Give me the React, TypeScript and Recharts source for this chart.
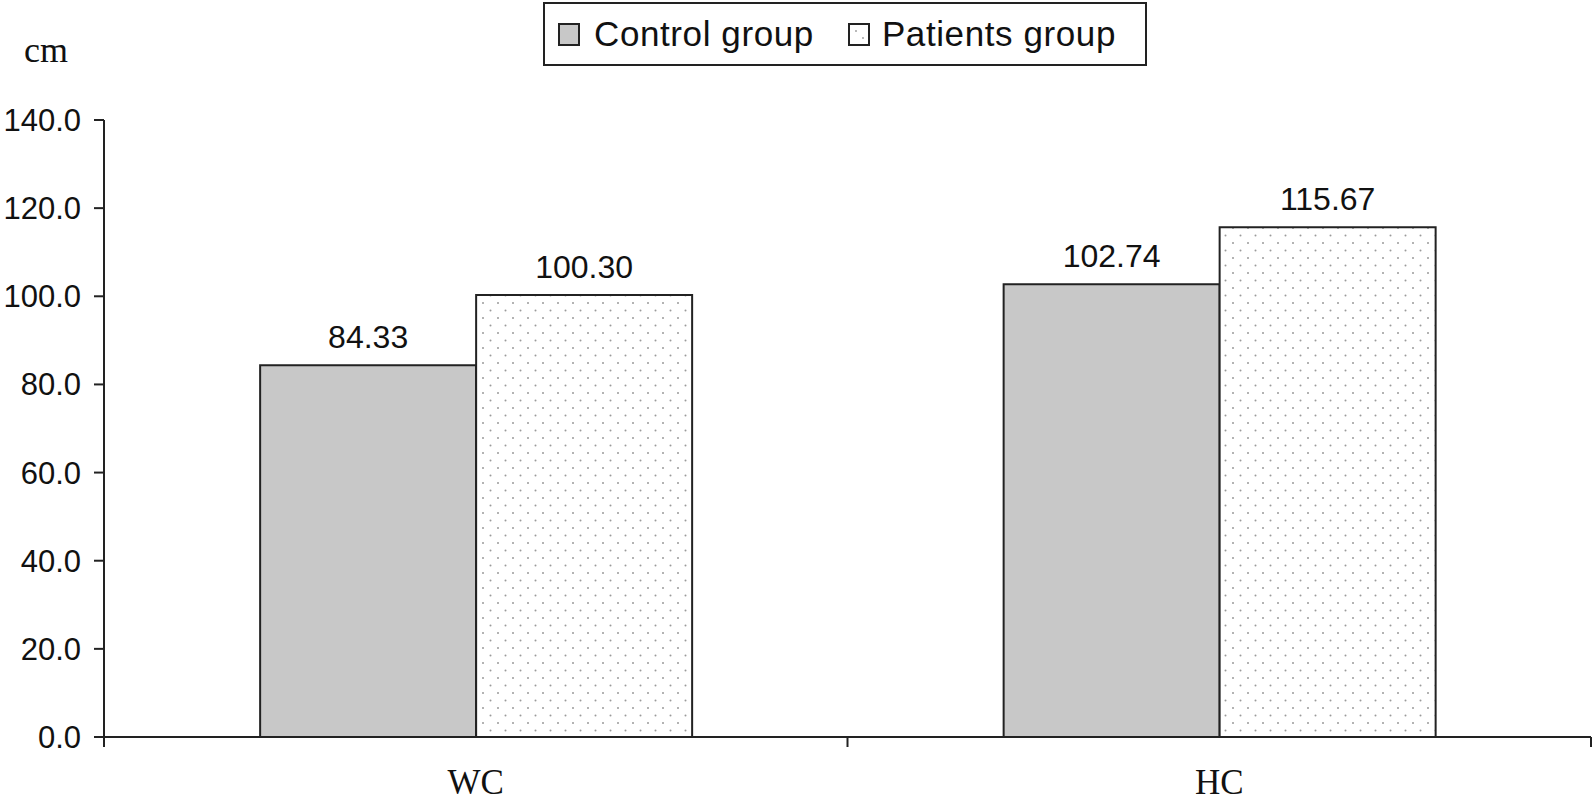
import { BarChart, Bar, XAxis, YAxis, Legend, LabelList } from "recharts";

const categories = ["WC", "HC"];
const controlValues = [84.33, 102.74];
const patientValues = [100.3, 115.67];
const yTicks = [0, 20, 40, 60, 80, 100, 120, 140];

const data = categories.map((name, i) => ({
  name,
  control: controlValues[i],
  patients: patientValues[i],
}));

const SANS = "'Liberation Sans', Arial, sans-serif";
const SERIF = "'Liberation Serif', 'Times New Roman', serif";

function CategoryTick(props: any) {
  const { x, y, payload, index } = props;
  const half = payload && payload.offset ? payload.offset : 371.75;
  const axisY = y - 10;
  return (
    <g>
      <line x1={x - half} x2={x - half} y1={axisY} y2={axisY + 10} stroke="#222" strokeWidth={2} />
      {index === categories.length - 1 && (
        <line x1={x + half} x2={x + half} y1={axisY} y2={axisY + 10} stroke="#222" strokeWidth={2} />
      )}
      <text x={x} y={y + 47} textAnchor="middle" fontFamily={SERIF} fontSize={35} fill="#111">
        {payload.value}
      </text>
    </g>
  );
}

function LegendBox() {
  return (
    <div
      style={{
        boxSizing: "border-box",
        width: 604,
        height: 64,
        border: "2px solid #222",
        background: "#fff",
        display: "flex",
        alignItems: "center",
        fontFamily: SANS,
        fontSize: 35,
        letterSpacing: 0.6,
        color: "#111",
        paddingLeft: 13,
        whiteSpace: "nowrap",
      }}
    >
      <svg width={22} height={23} style={{ marginRight: 14, flex: "none" }}>
        <rect x={1} y={1} width={20} height={21} fill="#c8c8c8" stroke="#222" strokeWidth={2} />
      </svg>
      <span style={{ marginRight: 34 }}>Control group</span>
      <svg width={22} height={23} style={{ marginRight: 12, flex: "none" }}>
        <rect x={1} y={1} width={20} height={21} fill="#fff" stroke="#222" strokeWidth={2} />
        <circle cx={8} cy={8} r={0.9} fill="#999" />
        <circle cx={15} cy={15} r={0.9} fill="#999" />
      </svg>
      <span>Patients group</span>
    </div>
  );
}

export default function App() {
  return (
    <div style={{ position: "absolute", left: 0, top: 0, background: "#fff" }}>
      <BarChart
        width={1594}
        height={802}
        data={data}
        margin={{ top: 120, right: 3, bottom: 0, left: 0 }}
        barCategoryGap="21%"
        barGap={0}
      >
        <defs>
          <pattern id="dots" width={15} height={15} patternUnits="userSpaceOnUse">
            <rect width={15} height={15} fill="#fff" />
            <circle cx={3} cy={3} r={1} fill="#9a9a9a" />
            <circle cx={10.5} cy={10.5} r={1} fill="#9a9a9a" />
          </pattern>
        </defs>
        <Legend
          verticalAlign="middle"
          align="center"
          content={() => <LegendBox />}
          wrapperStyle={{ position: "absolute", top: 2, left: 543, width: 604, height: 64 }}
        />
        <XAxis
          dataKey="name"
          height={65}
          axisLine={{ stroke: "#222", strokeWidth: 2 }}
          tickLine={false}
          tickSize={10}
          tickMargin={0}
          interval={0}
          tick={<CategoryTick />}
        />
        <YAxis
          width={104}
          domain={[0, 140]}
          ticks={yTicks}
          interval={0}
          tickFormatter={(v: number) => v.toFixed(1)}
          axisLine={{ stroke: "#222", strokeWidth: 2 }}
          tickLine={{ stroke: "#222", strokeWidth: 2 }}
          tickSize={10}
          tickMargin={13}
          tick={{ fontFamily: SANS, fontSize: 31, fill: "#111" }}
          label={{
            content: (p: any) => (
              <text
                x={46}
                y={p.viewBox.y - 58}
                textAnchor="middle"
                fontFamily={SERIF}
                fontSize={36}
                fill="#111"
              >
                cm
              </text>
            ),
          }}
        />
        <Bar dataKey="control" name="Control group" fill="#c8c8c8" stroke="#222" strokeWidth={2} isAnimationActive={false}>
          <LabelList
            dataKey="control"
            position="top"
            offset={17}
            formatter={(v: any) => Number(v).toFixed(2)}
            style={{ fontFamily: SANS, fontSize: 32, fill: "#111" }}
          />
        </Bar>
        <Bar dataKey="patients" name="Patients group" fill="url(#dots)" stroke="#222" strokeWidth={2} isAnimationActive={false}>
          <LabelList
            dataKey="patients"
            position="top"
            offset={17}
            formatter={(v: any) => Number(v).toFixed(2)}
            style={{ fontFamily: SANS, fontSize: 32, fill: "#111" }}
          />
        </Bar>
      </BarChart>
    </div>
  );
}
